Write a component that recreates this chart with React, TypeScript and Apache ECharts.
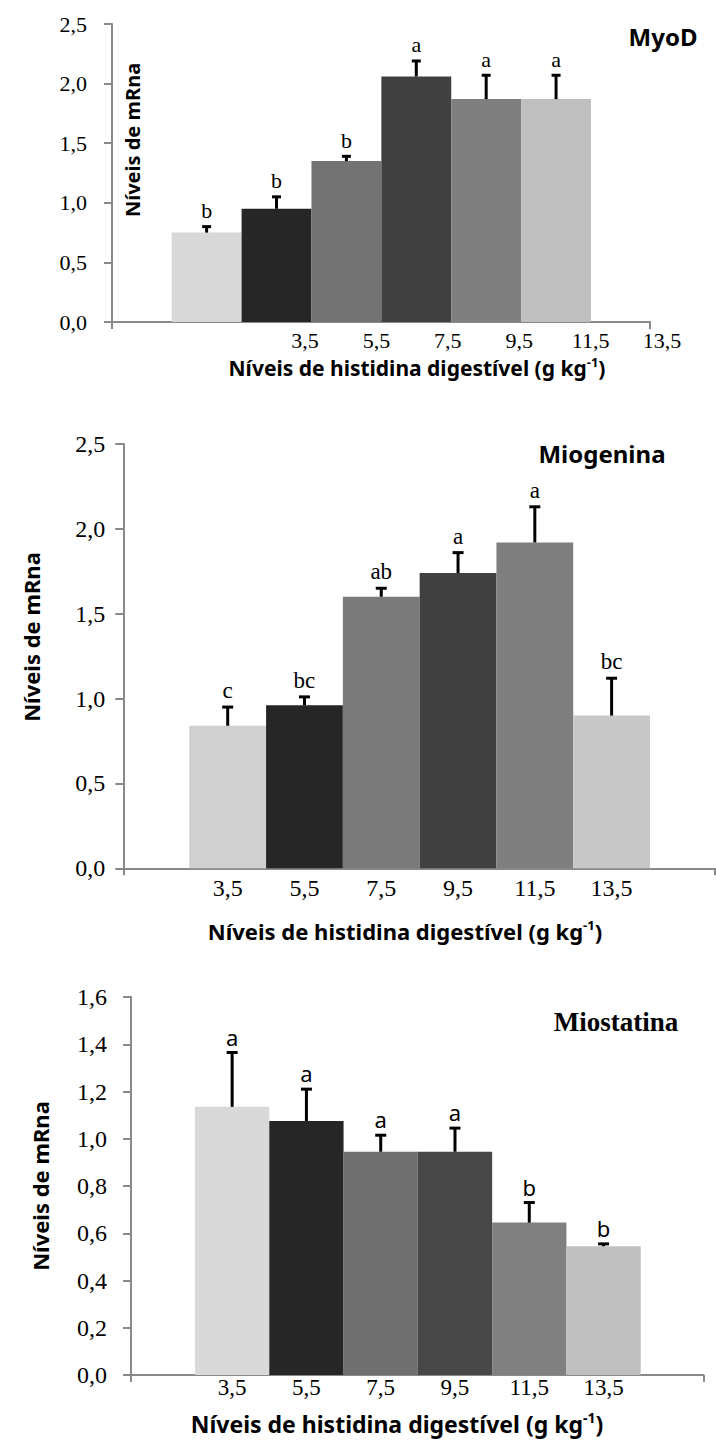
import React, { useEffect, useRef } from "react";
import * as echarts from "echarts";

// ---------- data ----------
const LEVELS = ["3,5", "5,5", "7,5", "9,5", "11,5", "13,5"];

const MYOD_MEAN = [0.75, 0.95, 1.35, 2.06, 1.87, 1.87];
const MYOD_UPPER = [0.8, 1.05, 1.39, 2.19, 2.07, 2.07];
const MYOD_LETTERS = ["b", "b", "b", "a", "a", "a"];

const MIOG_MEAN = [0.84, 0.96, 1.6, 1.74, 1.92, 0.9];
const MIOG_UPPER = [0.95, 1.01, 1.65, 1.86, 2.13, 1.12];
const MIOG_LETTERS = ["c", "bc", "ab", "a", "a", "bc"];

const MIOS_MEAN = [1.135, 1.075, 0.945, 0.945, 0.645, 0.545];
const MIOS_UPPER = [1.365, 1.21, 1.015, 1.045, 0.73, 0.555];
const MIOS_LETTERS = ["a", "a", "a", "a", "b", "b"];

const X_TITLE = "Níveis de histidina digestível (g kg";
const Y_TITLE = "Níveis de mRna";

// ---------- styles ----------
const COLORS_1 = ["#d8d8d8", "#262626", "#737373", "#404040", "#7f7f7f", "#bfbfbf"];
const COLORS_2 = ["#d0d0d0", "#262626", "#7a7a7a", "#404040", "#7f7f7f", "#c8c8c8"];
const COLORS_3 = ["#d9d9d9", "#262626", "#6f6f6f", "#474747", "#808080", "#bfbfbf"];
const AXIS_GRAY = "#898989";
const SERIF = '"Liberation Serif", "Times New Roman", serif';
const SANS = '"Noto Sans", "Open Sans", sans-serif';

const PANELS = [
  {
    mean: MYOD_MEAN, upper: MYOD_UPPER, letters: MYOD_LETTERS, colors: COLORS_1,
    top: 24, height: 298, barLeft: 171.7, barRight: 591, axisLeft: 112, axisRight: 650,
    max: 2.5, interval: 0.5, yLabelMargin: 25, yFont: 22,
    labelGrid: { left: 269.3, right: 697.7 }, xLabelMargin: 7, xFont: 22,
    cap: 9, letterFamily: SERIF, letterSize: 22, letterGap: 5,
  },
  {
    mean: MIOG_MEAN, upper: MIOG_UPPER, letters: MIOG_LETTERS, colors: COLORS_2,
    top: 444, height: 424.3, barLeft: 189.3, barRight: 650, axisLeft: 123.3, axisRight: 715,
    max: 2.5, interval: 0.5, yLabelMargin: 18, yFont: 24,
    labelGrid: null, xLabelMargin: 8, xFont: 24,
    cap: 11, letterFamily: SERIF, letterSize: 23, letterGap: 5,
  },
  {
    mean: MIOS_MEAN, upper: MIOS_UPPER, letters: MIOS_LETTERS, colors: COLORS_3,
    top: 997, height: 378, barLeft: 195, barRight: 640.7, axisLeft: 131, axisRight: 703.3,
    max: 1.6, interval: 0.2, yLabelMargin: 24, yFont: 24,
    labelGrid: null, xLabelMargin: 1, xFont: 23,
    cap: 11, letterFamily: SANS, letterSize: 22, letterGap: 5,
  },
];

const fmt = (v: number) => v.toFixed(1).replace(".", ",");

function buildOption() {
  const grid: any[] = [];
  const xAxis: any[] = [];
  const yAxis: any[] = [];
  const series: any[] = [];
  const lineStyle = { color: AXIS_GRAY, width: 2 };

  PANELS.forEach((p) => {
    const gBar = grid.length;
    grid.push({ left: p.barLeft, width: p.barRight - p.barLeft, top: p.top, height: p.height });
    xAxis.push({
      gridIndex: gBar, type: "category", data: LEVELS,
      axisLine: { show: false }, axisTick: { show: false }, splitLine: { show: false },
      axisLabel: p.labelGrid
        ? { show: false }
        : { show: true, margin: p.xLabelMargin, fontFamily: SERIF, fontSize: p.xFont, color: "#000" },
    });
    yAxis.push({
      gridIndex: gBar, type: "value", min: 0, max: p.max, interval: p.interval,
      offset: p.barLeft - p.axisLeft,
      axisLine: { show: true, lineStyle },
      axisTick: { show: true, length: 8, lineStyle },
      splitLine: { show: false },
      axisLabel: { margin: p.yLabelMargin, fontFamily: SERIF, fontSize: p.yFont, color: "#000", formatter: fmt },
    });

    const gLine = grid.length;
    grid.push({ left: p.axisLeft, width: p.axisRight - p.axisLeft, top: p.top, height: p.height });
    xAxis.push({
      gridIndex: gLine, type: "category", data: [""], boundaryGap: true,
      axisLine: { show: true, lineStyle },
      axisTick: { show: true, length: 7, lineStyle },
      axisLabel: { show: false }, splitLine: { show: false },
    });
    yAxis.push({ gridIndex: gLine, type: "value", show: false, min: 0, max: 1 });

    if (p.labelGrid) {
      const gLab = grid.length;
      grid.push({ left: p.labelGrid.left, width: p.labelGrid.right - p.labelGrid.left, top: p.top, height: p.height });
      xAxis.push({
        gridIndex: gLab, type: "category", data: LEVELS,
        axisLine: { show: false }, axisTick: { show: false }, splitLine: { show: false },
        axisLabel: { show: true, margin: p.xLabelMargin, fontFamily: SERIF, fontSize: p.xFont, color: "#000" },
      });
      yAxis.push({ gridIndex: gLab, type: "value", show: false, min: 0, max: 1 });
    }

    series.push({
      type: "bar", xAxisIndex: gBar, yAxisIndex: gBar, barCategoryGap: "0%", silent: true,
      data: p.mean.map((v, i) => ({ value: v, itemStyle: { color: p.colors[i] } })),
    });
    series.push({
      type: "custom", xAxisIndex: gBar, yAxisIndex: gBar, silent: true, z: 5,
      encode: { x: 0, y: [1, 2] },
      data: p.mean.map((v, i) => [i, v, p.upper[i]]),
      renderItem: (params: any, api: any) => {
        const i = api.value(0);
        const a = api.coord([i, api.value(1)]);
        const b = api.coord([i, api.value(2)]);
        const st = { stroke: "#000", lineWidth: 3 };
        return {
          type: "group",
          children: [
            { type: "line", shape: { x1: a[0], y1: a[1], x2: b[0], y2: b[1] }, style: st },
            { type: "line", shape: { x1: b[0] - p.cap / 2, y1: b[1], x2: b[0] + p.cap / 2, y2: b[1] }, style: st },
            {
              type: "text", x: b[0], y: b[1] - p.letterGap,
              style: {
                text: p.letters[params.dataIndex], align: "center", verticalAlign: "bottom",
                fontFamily: p.letterFamily, fontSize: p.letterSize, fill: "#000",
              },
            },
          ],
        };
      },
    });
  });

  const xTitle = (x: number, y: number, size: number) => ({
    type: "text", x, y,
    style: {
      text: `{m|${X_TITLE}}{s|-1}{m|)}`,
      align: "center", verticalAlign: "middle",
      rich: {
        m: { fontFamily: SANS, fontWeight: "bold", fontSize: size, fill: "#000", lineHeight: size + 4 },
        s: { fontFamily: SANS, fontWeight: "bold", fontSize: Math.round(size * 0.6), fill: "#000", verticalAlign: "top", lineHeight: size + 4 },
      },
    },
  });
  const yTitle = (x: number, y: number, size: number) => ({
    type: "text", x, y, rotation: Math.PI / 2,
    style: { text: Y_TITLE, align: "center", verticalAlign: "middle", fontFamily: SANS, fontWeight: "bold", fontSize: size, fill: "#000" },
  });
  const title = (t: string, x: number, y: number, size: number, family: string) => ({
    type: "text", x, y,
    style: { text: t, align: "center", verticalAlign: "middle", fontFamily: family, fontWeight: "bold", fontSize: size, fill: "#000" },
  });

  return {
    animation: false,
    backgroundColor: "#fff",
    grid, xAxis, yAxis, series,
    graphic: [
      title("MyoD", 663, 36, 24, SANS),
      title("Miogenina", 602, 453, 24, SANS),
      title("Miostatina", 616, 1022, 27, SERIF),
      yTitle(132, 140, 20),
      yTitle(31, 637, 22),
      yTitle(40, 1186, 22),
      xTitle(417, 368, 21),
      xTitle(405, 931, 22),
      xTitle(397, 1424, 23),
    ],
  };
}

export default function App() {
  const ref = useRef<HTMLDivElement>(null);
  useEffect(() => {
    document.body.style.margin = "0";
    if (!ref.current) return;
    const chart = echarts.init(ref.current, undefined, { renderer: "svg" });
    chart.setOption(buildOption() as any);
    return () => chart.dispose();
  }, []);
  return <div ref={ref} style={{ width: 716, height: 1440 }} />;
}
